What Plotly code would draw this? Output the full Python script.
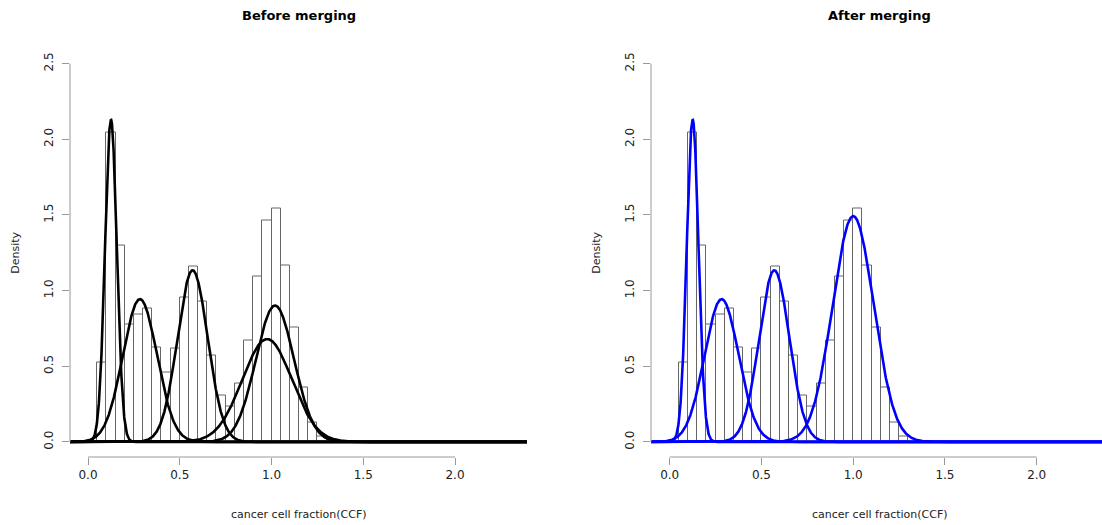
import numpy as np
import plotly.graph_objects as go

# ---- data ----
bin_width = 0.05
bin_left_edges = [0.05, 0.10, 0.15, 0.20, 0.25, 0.30, 0.35, 0.40, 0.45, 0.50,
                  0.55, 0.60, 0.65, 0.70, 0.75, 0.80, 0.85, 0.90, 0.95, 1.00,
                  1.05, 1.10, 1.15, 1.20, 1.25]
densities = [0.522, 2.048, 1.298, 0.774, 0.842, 0.884, 0.627, 0.461, 0.614, 0.956,
             1.156, 0.930, 0.570, 0.309, 0.235, 0.384, 0.669, 1.096, 1.465, 1.542,
             1.169, 0.759, 0.362, 0.127, 0.035]

# mixture components (mean, sd, weight)
means_before = [0.125, 0.283, 0.570, 1.019, 0.976]
sds_before = [0.032, 0.093, 0.0825, 0.104, 0.135]
weights_before = [0.171, 0.220, 0.2345, 0.235, 0.230]

means_after = [0.125, 0.283, 0.570, 1.000]
sds_after = [0.032, 0.093, 0.0825, 0.112]
weights_after = [0.171, 0.220, 0.2345, 0.419]

x_ticks = [0.0, 0.5, 1.0, 1.5, 2.0]
y_ticks = [0.0, 0.5, 1.0, 1.5, 2.0, 2.5]
titles = ["Before merging", "After merging"]
x_title = "cancer cell fraction(CCF)"
y_title = "Density"

# ---- figure ----
W, H = 1102, 525
FONT = "DejaVu Sans"
AXIS_COLOR = "#999999"
grid = np.linspace(-0.12, 2.45, 2571)


def dnorm(x, m, s):
    return np.exp(-0.5 * ((x - m) / s) ** 2) / (s * np.sqrt(2 * np.pi))


fig = go.Figure()
centers = [e + bin_width / 2 for e in bin_left_edges]

panels = [
    dict(xa="x", ya="y", means=means_before, sds=sds_before, w=weights_before, color="black"),
    dict(xa="x2", ya="y2", means=means_after, sds=sds_after, w=weights_after, color="#0000FF"),
]

for p in panels:
    fig.add_trace(go.Bar(x=centers, y=densities, width=bin_width,
                         marker=dict(color="white", line=dict(color="#666666", width=1)),
                         xaxis=p["xa"], yaxis=p["ya"], showlegend=False, hoverinfo="skip"))
    for m, s, w in zip(p["means"], p["sds"], p["w"]):
        fig.add_trace(go.Scatter(x=grid, y=w * dnorm(grid, m, s), mode="lines",
                                 line=dict(color=p["color"], width=2.6),
                                 xaxis=p["xa"], yaxis=p["ya"], showlegend=False,
                                 hoverinfo="skip"))

# plot regions in pixels
px_per_unit_x = 183.5
left_x0_px, left_x1_px = 70, 527
right_x0_px, right_x1_px = 651, 1102
zero_left_px, zero_right_px = 88, 669.7
top_px, bot_px = 48.5, 457

def xr(x0px, x1px, zpx):
    return [(x0px - zpx) / px_per_unit_x, (x1px - zpx) / px_per_unit_x]

ydom = [(H - bot_px) / H, (H - top_px) / H]
axis_common = dict(showgrid=False, zeroline=False, showline=False, ticks="outside",
                   ticklen=7, tickcolor=AXIS_COLOR, tickwidth=1,
                   tickfont=dict(family=FONT, size=12, color="#222222"))

fig.update_layout(
    width=W, height=H, margin=dict(l=0, r=0, t=0, b=0),
    paper_bgcolor="white", plot_bgcolor="white", bargap=0,
    xaxis=dict(domain=[left_x0_px / W, left_x1_px / W], range=xr(left_x0_px, left_x1_px, zero_left_px),
               tickvals=x_ticks, ticktext=[f"{v:.1f}" for v in x_ticks], anchor="y", **axis_common),
    yaxis=dict(domain=ydom, range=[-0.1, 2.6], tickvals=y_ticks,
               ticktext=[f"{v:.1f}" for v in y_ticks], tickangle=-90, anchor="x",
               ticklabelstandoff=4, **axis_common),
    xaxis2=dict(domain=[right_x0_px / W, 1.0], range=xr(right_x0_px, right_x1_px, zero_right_px),
                tickvals=x_ticks, ticktext=[f"{v:.1f}" for v in x_ticks], anchor="y2", **axis_common),
    yaxis2=dict(domain=ydom, range=[-0.1, 2.6], tickvals=y_ticks,
                ticktext=[f"{v:.1f}" for v in y_ticks], tickangle=-90, anchor="x2",
                ticklabelstandoff=4, **axis_common),
)

# R-style axis lines spanning first to last tick
for xa, ya in [("x", "y"), ("x2", "y2")]:
    fig.add_shape(type="line", xref=xa, yref=f"{ya} domain", x0=x_ticks[0], x1=x_ticks[-1],
                  y0=0, y1=0, line=dict(color=AXIS_COLOR, width=1))
    fig.add_shape(type="line", xref=f"{xa} domain", yref=ya, x0=0, x1=0,
                  y0=y_ticks[0], y1=y_ticks[-1], line=dict(color=AXIS_COLOR, width=1))

centers_px = [(left_x0_px + left_x1_px) / 2, (left_x0_px + left_x1_px) / 2 + 581]
for cx, t in zip(centers_px, titles):
    fig.add_annotation(text=f"<b>{t}</b>", x=cx / W, y=1 - 16 / H, xref="paper", yref="paper",
                       showarrow=False, xanchor="center", yanchor="middle",
                       font=dict(family=FONT, size=13, color="black"))
    fig.add_annotation(text=x_title, x=cx / W, y=1 - 514 / H, xref="paper", yref="paper",
                       showarrow=False, xanchor="center", yanchor="middle",
                       font=dict(family=FONT, size=11, color="#222222"))
for lx in [16, 16 + 581]:
    fig.add_annotation(text=y_title, x=lx / W, y=1 - ((top_px + bot_px) / 2) / H,
                       xref="paper", yref="paper", showarrow=False, textangle=-90,
                       xanchor="center", yanchor="middle",
                       font=dict(family=FONT, size=11, color="#222222"))

fig.write_html("out.html", config={"displayModeBar": False},
               post_script="document.body.style.margin='0';document.body.style.overflow='hidden';")
